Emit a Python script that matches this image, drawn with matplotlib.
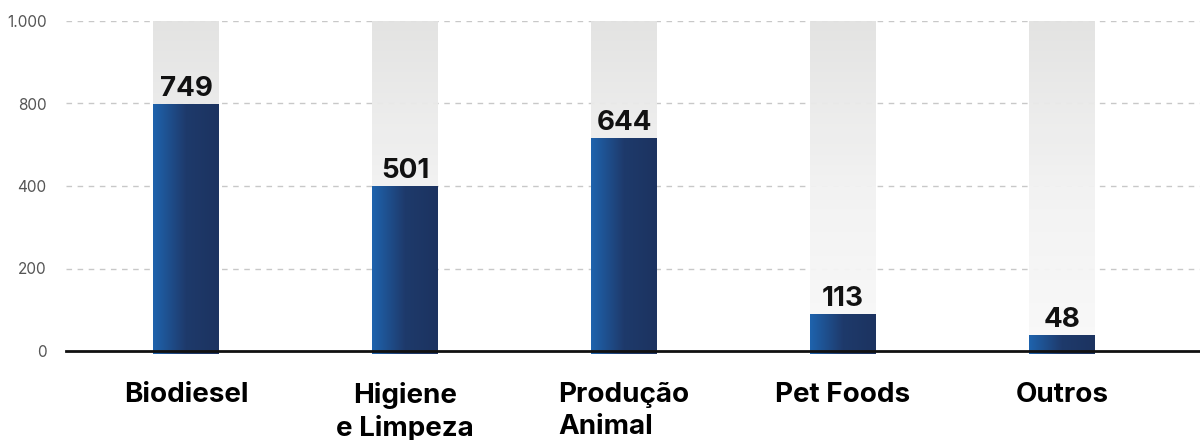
import numpy as np
import matplotlib.pyplot as plt
from matplotlib.colors import LinearSegmentedColormap

plt.rcParams['font.family'] = ['Inter', 'DejaVu Sans']

categories = ["Biodiesel", "Higiene\ne Limpeza", "Produção\nAnimal", "Pet Foods", "Outros"]
label_align = ["center", "center", "left", "center", "center"]
values = [749, 501, 644, 113, 48]
y_max = 1000
tick_values = [0, 250, 500, 750, 1000]
tick_labels = ["0", "200", "400", "800", "1.000"]

BAR_WIDTH = 0.30
blue_cmap = LinearSegmentedColormap.from_list("blue", ["#1f63ad", "#1e3a6b", "#1c3360"])
gray_cmap = LinearSegmentedColormap.from_list("gray", ["#f9f9f9", "#f2f2f2", "#e2e2e1"])

fig = plt.figure(figsize=(12, 4.4), dpi=100)
ax = fig.add_axes([66 / 1200, 89 / 440, 1134 / 1200, 330 / 440])

x = np.arange(len(categories))

# dashed grid
for t in tick_values[1:]:
    ax.axhline(t, color="#c8c8c8", linestyle=(0, (4, 4)), linewidth=1, zorder=0)

hgrad = np.linspace(0, 1, 256).reshape(1, -1)
vgrad = np.linspace(0, 1, 256).reshape(-1, 1)

for xi, v in zip(x, values):
    left = xi - BAR_WIDTH / 2
    # light gray column for the full scale
    bg = ax.bar(xi, y_max, width=BAR_WIDTH, color="none", zorder=1)[0]
    im = ax.imshow(vgrad, cmap=gray_cmap, aspect="auto", origin="lower",
                   extent=(left, left + BAR_WIDTH, 0, y_max), zorder=1, alpha=0.95)
    im.set_clip_path(bg)
    # blue value bar with horizontal gradient
    bar = ax.bar(xi, v + 8, bottom=-8, width=BAR_WIDTH, color="none", zorder=2,
                 clip_on=False)[0]
    im2 = ax.imshow(hgrad, cmap=blue_cmap, aspect="auto",
                    extent=(left, left + BAR_WIDTH, -8, v), zorder=2)
    im2.set_clip_path(bar)
    ax.annotate(f"{v}", (xi, v), xytext=(0, 1.5), textcoords="offset points",
                ha="center", va="bottom", fontsize=20, fontweight="bold",
                color="#111111", zorder=4)

ax.set_xlim(-0.548, 4.63)
ax.set_ylim(0, y_max)

ax.axhline(0, color="#111111", linewidth=2, zorder=5, clip_on=False)

ax.set_yticks(tick_values)
ax.set_yticklabels(tick_labels, fontsize=11, color="#555555")
ax.tick_params(axis="y", length=0, pad=14)
ax.set_xticks(x)
ax.set_xticklabels(categories, fontsize=20, fontweight="bold", color="#000000",
                   linespacing=1.3, va="top")
for lbl, al in zip(ax.get_xticklabels(), label_align):
    lbl.set_multialignment(al)
ax.tick_params(axis="x", length=0, pad=22)

for s in ax.spines.values():
    s.set_visible(False)

fig.savefig("out.png", dpi=100)
